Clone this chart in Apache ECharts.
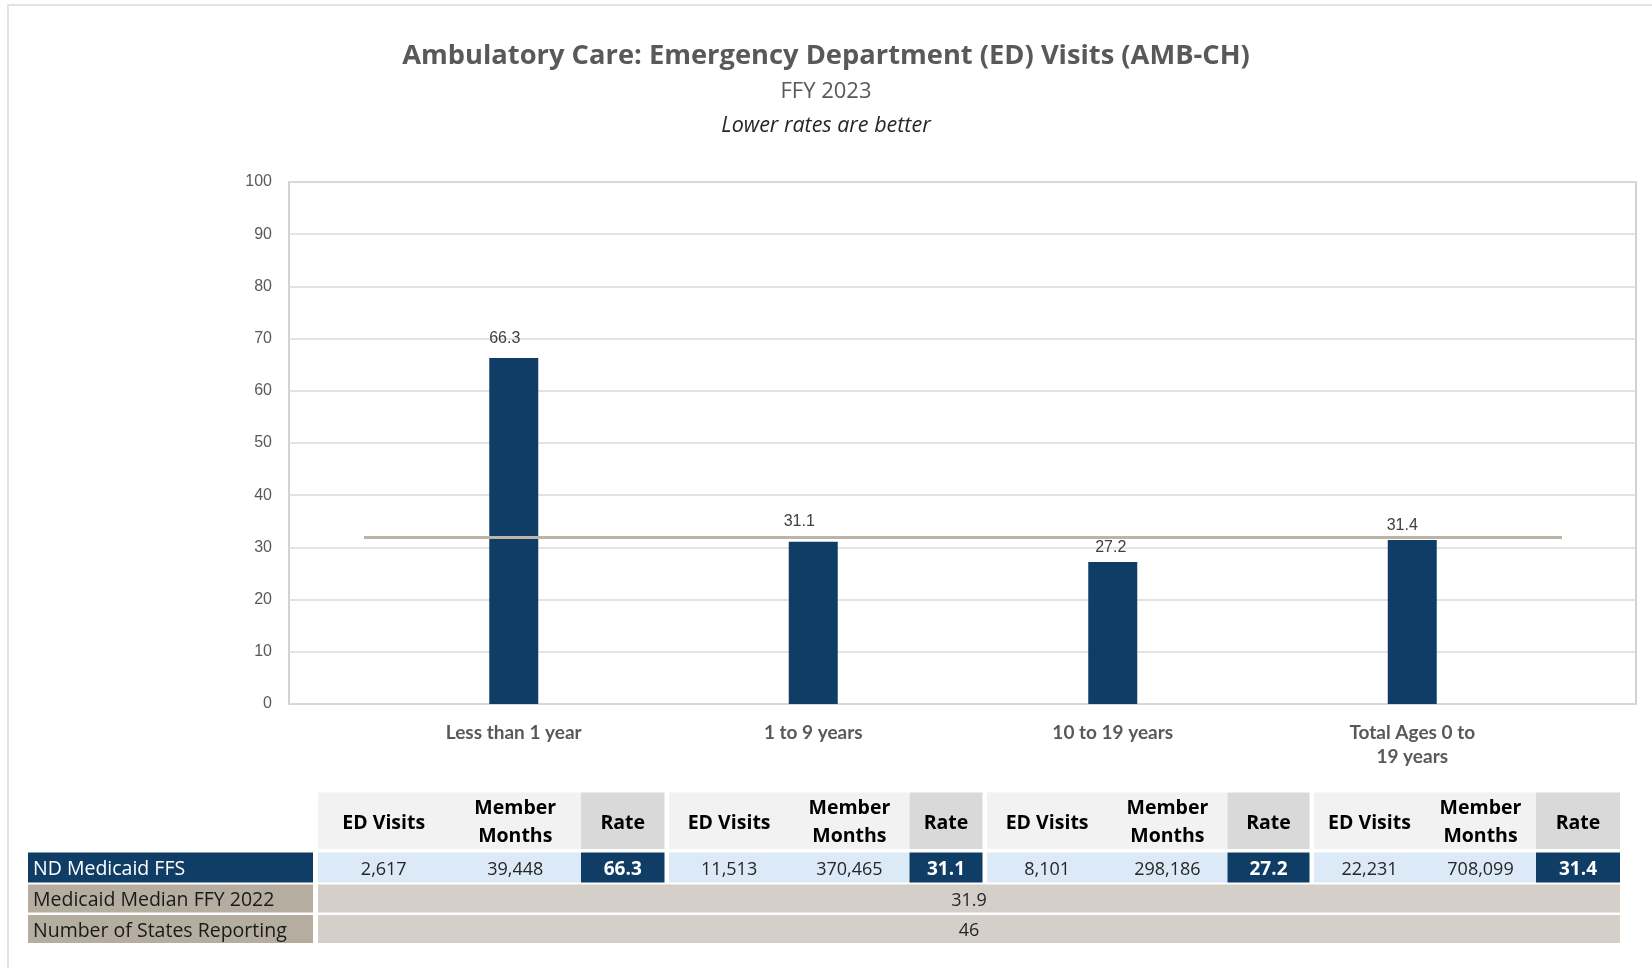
<!DOCTYPE html>
<html>
<head>
<meta charset="utf-8">
<title>AMB-CH</title>
<script src="https://cdn.jsdelivr.net/npm/echarts@6/dist/echarts.min.js"></script>
<style>
    html, body { margin: 0; padding: 0; background: #fff; }
    #main { width: 1652px; height: 968px; }
</style>
</head>
<body>
<div id="main"></div>
<script type="text/javascript">
    // chart data
    var categories = ['Less than 1 year', '1 to 9 years', '10 to 19 years', 'Total Ages 0 to\n19 years'];
    var rates = [66.3, 31.1, 27.2, 31.4];
    var edVisits = [2617, 11513, 8101, 22231];
    var memberMonths = [39448, 370465, 298186, 708099];
    var medianRate = 31.9;
    var statesReporting = 46;
    var rowLabels = ['ND Medicaid FFS', 'Medicaid Median FFY 2022', 'Number of States Reporting'];
    var colHeaders = ['ED Visits', 'Member\nMonths', 'Rate'];

    // bar label nudges (the labels were hand placed in the original)
    var labelDx = [-9, -14, -2, -10];
    var labelDy = [-2, -3, 3, 3];

    // table layout, pixels
    var groupLeft = [318, 669, 987, 1314];
    var rateLeft = [581, 909.5, 1227.5, 1536];
    var rateRight = [664.5, 982.5, 1309.5, 1620];
    var rowTop = [792.5, 852.5, 884.5, 915];
    var rowBottom = [849, 882.5, 912.5, 943];
    var labelLeft = 28, labelRight = 313;

    var tableFont = 'Open Sans';
    var navy = '#103d66';

    function fmt(v) { return v.toLocaleString('en-US'); }

    var g = [];
    // outer frame
    g.push({ type: 'rect', silent: true, shape: { x: 8, y: 5, width: 1700, height: 1000 },
        style: { fill: 'none', stroke: '#e3e3e3', lineWidth: 2 } });

    function box(x0, x1, y0, y1, fill) {
        g.push({ type: 'rect', silent: true, shape: { x: x0, y: y0, width: x1 - x0, height: y1 - y0 }, style: { fill: fill } });
    }
    function txt(x, y, s, size, weight, color, align) {
        g.push({ type: 'text', silent: true, x: x, y: y + 2, style: {
            text: s, fontFamily: tableFont, fontSize: size, fontWeight: weight, fill: color,
            align: align || 'center', verticalAlign: 'middle', lineHeight: 28 } });
    }

    // header + ND row per age group
    for (var i = 0; i < categories.length; i++) {
        var mid = (groupLeft[i] + rateLeft[i]) / 2;
        var c1 = (groupLeft[i] + mid) / 2, c2 = (mid + rateLeft[i]) / 2, c3 = (rateLeft[i] + rateRight[i]) / 2;
        var hy = (rowTop[0] + rowBottom[0]) / 2, ny = (rowTop[1] + rowBottom[1]) / 2;
        box(groupLeft[i], rateLeft[i], rowTop[0], rowBottom[0], '#f2f2f2');
        box(rateLeft[i], rateRight[i], rowTop[0], rowBottom[0], '#d9d9d9');
        txt(c1, hy + 1, colHeaders[0], 19.5, 'bold', '#000');
        txt(c2, hy, colHeaders[1], 19.5, 'bold', '#000');
        txt(c3, hy + 1, colHeaders[2], 19.5, 'bold', '#000');
        box(groupLeft[i], rateLeft[i], rowTop[1], rowBottom[1], '#dceaf7');
        box(rateLeft[i], rateRight[i], rowTop[1], rowBottom[1], navy);
        txt(c1, ny, fmt(edVisits[i]), 18, 'normal', '#262626');
        txt(c2, ny, fmt(memberMonths[i]), 18, 'normal', '#262626');
        txt(c3, ny, rates[i].toFixed(1), 19, 'bold', '#fff');
    }
    // row labels
    var labelFills = [navy, '#b5ad9f', '#b5ad9f'];
    var labelColors = ['#fff', '#1a1a1a', '#1a1a1a'];
    for (var r = 0; r < rowLabels.length; r++) {
        box(labelLeft, labelRight, rowTop[r + 1], rowBottom[r + 1], labelFills[r]);
        txt(labelLeft + 5, (rowTop[r + 1] + rowBottom[r + 1]) / 2, rowLabels[r], 19.5, 'normal', labelColors[r], 'left');
    }
    // merged median / states rows
    var tableMid = (groupLeft[0] + rateRight[3]) / 2;
    box(groupLeft[0], rateRight[3], rowTop[2], rowBottom[2], '#d4cfc8');
    box(groupLeft[0], rateRight[3], rowTop[3], rowBottom[3], '#d4cfc8');
    txt(tableMid, (rowTop[2] + rowBottom[2]) / 2, medianRate.toFixed(1), 18, 'normal', '#262626');
    txt(tableMid, (rowTop[3] + rowBottom[3]) / 2, String(statesReporting), 18, 'normal', '#262626');

    var barData = rates.map(function (v, k) {
        return { value: v, label: { offset: [labelDx[k], labelDy[k]] } };
    });

    var chart = echarts.init(document.getElementById('main'));
    var option = {
        animation: false,
        backgroundColor: '#fff',
        title: [
            {
                text: 'Ambulatory Care: Emergency Department (ED) Visits (AMB-CH)',
                left: 'center', top: 40, padding: 0,
                textStyle: { fontFamily: 'Open Sans', fontWeight: 'bold', fontSize: 27.3, lineHeight: 32, color: '#595959' }
            },
            {
                text: 'FFY 2023',
                left: 'center', top: 79, padding: 0,
                textStyle: { fontFamily: 'Open Sans', fontWeight: 'normal', fontSize: 22, lineHeight: 26, color: '#595959' }
            },
            {
                text: 'Lower rates are better',
                left: 'center', top: 113, padding: 0,
                textStyle: { fontFamily: 'Open Sans', fontWeight: 'normal', fontStyle: 'italic', fontSize: 21.5, lineHeight: 26, color: '#262626' }
            }
        ],
        grid: [
            { left: 289, top: 182, width: 1347, height: 522, show: true, borderColor: '#c9c4ba', borderWidth: 1.5 },
            { left: 364, top: 182, width: 1198, height: 522 }
        ],
        xAxis: [
            { gridIndex: 0, type: 'value', show: false },
            {
                gridIndex: 1, type: 'category', data: categories,
                axisLine: { show: false }, axisTick: { show: false },
                axisLabel: { margin: 17, fontFamily: 'Lato', fontWeight: 'bold', fontSize: 19, lineHeight: 24, color: '#595959' }
            }
        ],
        yAxis: [
            {
                gridIndex: 0, type: 'value', min: 0, max: 100, interval: 10,
                axisLine: { show: false }, axisTick: { show: false },
                axisLabel: { margin: 17, fontFamily: 'Liberation Sans', fontSize: 16, color: '#595959' },
                splitLine: { lineStyle: { color: '#dadada', width: 1.5 } }
            },
            { gridIndex: 1, type: 'value', min: 0, max: 100, show: false }
        ],
        series: [
            {
                type: 'bar', xAxisIndex: 1, yAxisIndex: 1,
                data: barData, barWidth: 49,
                itemStyle: { color: navy },
                label: { show: true, position: 'top', distance: 9, fontFamily: 'Liberation Sans', fontSize: 16, color: '#404040' },
                markLine: {
                    silent: true, symbol: 'none', label: { show: false },
                    lineStyle: { color: '#bcb5a7', width: 3, type: 'solid' },
                    data: [{ yAxis: medianRate }]
                }
            }
        ],
        graphic: g
    };
    chart.setOption(option);
</script>
</body>
</html>
